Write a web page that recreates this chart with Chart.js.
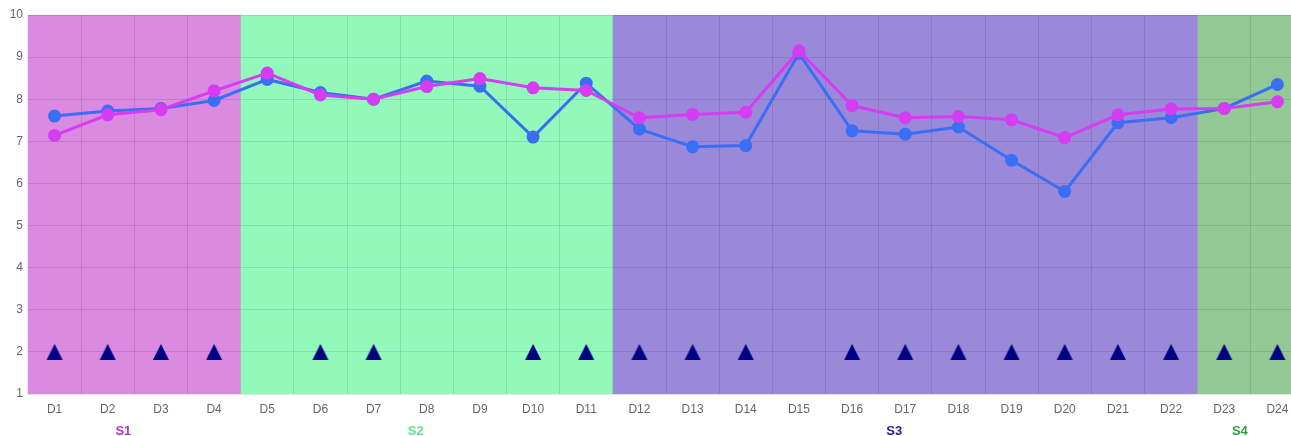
<!DOCTYPE html>
<html>
<head>
<meta charset="utf-8">
<script src="https://cdn.jsdelivr.net/npm/chart.js@4/dist/chart.umd.min.js"></script>
<style>
    html, body { margin: 0; padding: 0; background: #fff; }
    #wrap { width: 1291px; height: 436px; position: relative; }
</style>
</head>
<body>
<div id="wrap"><canvas id="myChart"></canvas></div>
<script>
// du lieu
const categories = ['D1','D2','D3','D4','D5','D6','D7','D8','D9','D10','D11','D12',
    'D13','D14','D15','D16','D17','D18','D19','D20','D21','D22','D23','D24'];
const blueValues = [7.6, 7.72, 7.78, 7.97, 8.47, 8.16, 8.0, 8.43, 8.31, 7.1, 8.38, 7.29,
    6.87, 6.9, 9.09, 7.25, 7.17, 7.34, 6.55, 5.81, 7.44, 7.56, 7.78, 8.35];
const magentaValues = [7.14, 7.63, 7.75, 8.2, 8.62, 8.1, 8.0, 8.3, 8.49, 8.27, 8.21, 7.56,
    7.64, 7.69, 9.15, 7.85, 7.56, 7.59, 7.51, 7.09, 7.63, 7.77, 7.78, 7.94];
const markerValues = [2, 2, 2, 2, null, 2, 2, null, null, 2, 2, 2,
    2, 2, null, 2, 2, 2, 2, 2, 2, 2, 2, 2];
const groupNames = ['S1', 'S2', 'S3', 'S4'];
const groupStart = [0, 4, 11, 22];
const groupEnd = [3, 10, 21, 23];
const groupFill = ['#da8ae0', '#93f9bb', '#9a88da', '#92c995'];
const groupText = ['#b433c8', '#5ce68e', '#2a1a9c', '#35a040'];

// hinh tam giac cho diem danh dau
const tri = document.createElement('canvas');
tri.width = 18;
tri.height = 16;
const tctx = tri.getContext('2d');
tctx.fillStyle = '#000080';
tctx.beginPath();
tctx.moveTo(9, 0);
tctx.lineTo(17, 16);
tctx.lineTo(1, 16);
tctx.closePath();
tctx.fill();

// bieu do goc bi cat o ben phai: vung ve dai hon canvas 13px
const overflowRight = 13;

const groupPlugin = {
    id: 'groups',
    afterLayout(chart) {
        const x = chart.scales.x;
        const extra = chart.width + overflowRight - chart.chartArea.right;
        chart.chartArea.right += extra;
        chart.chartArea.width += extra;
        x.right += extra;
        x.width += extra;
        x.configure();
    },
    beforeDraw(chart) {
        const ctx = chart.ctx;
        const x = chart.scales.x;
        const area = chart.chartArea;
        const half = (x.getPixelForValue(1) - x.getPixelForValue(0)) / 2;
        ctx.save();
        groupNames.forEach((g, i) => {
            const l = x.getPixelForValue(groupStart[i]) - half;
            const r = x.getPixelForValue(groupEnd[i]) + half;
            ctx.fillStyle = groupFill[i];
            ctx.fillRect(l, area.top, r - l, area.bottom - area.top);
        });
        ctx.restore();
    },
    afterDraw(chart) {
        const ctx = chart.ctx;
        const x = chart.scales.x;
        ctx.save();
        ctx.font = 'bold 13px Arial';
        ctx.textAlign = 'center';
        ctx.textBaseline = 'middle';
        groupNames.forEach((g, i) => {
            const mid = (x.getPixelForValue(groupStart[i]) + x.getPixelForValue(groupEnd[i])) / 2;
            ctx.fillStyle = groupText[i];
            ctx.fillText(g, mid - 11, 431);
        });
        ctx.restore();
    }
};

const ctx = document.getElementById('myChart').getContext('2d');
const myChart = new Chart(ctx, {
    type: 'line',
    data: {
        labels: categories,
        datasets: [{
            data: markerValues,
            showLine: false,
            pointStyle: tri,
            pointRadius: 9
        }, {
            data: magentaValues,
            borderColor: '#d63cf2',
            backgroundColor: '#d63cf2',
            pointBackgroundColor: '#d63cf2',
            pointBorderColor: '#d63cf2',
            borderWidth: 3,
            pointRadius: 5,
            tension: 0
        }, {
            data: blueValues,
            borderColor: '#3a6ff3',
            backgroundColor: '#3a6ff3',
            pointBackgroundColor: '#3a6ff3',
            pointBorderColor: '#3a6ff3',
            borderWidth: 3,
            pointRadius: 5,
            tension: 0
        }]
    },
    options: {
        responsive: true,
        maintainAspectRatio: false,
        animation: false,
        layout: { padding: { top: 15, left: 0, right: 0, bottom: 0 } },
        plugins: {
            legend: { display: false },
            tooltip: { enabled: false }
        },
        scales: {
            x: {
                offset: true,
                grid: { offset: true, color: 'rgba(0,0,0,0.1)', drawTicks: false },
                border: { display: false },
                ticks: { color: '#666', font: { size: 12, family: 'Arial' }, padding: 8 },
                afterFit(scale) { scale.height = 42; }
            },
            y: {
                min: 1,
                max: 10,
                ticks: { stepSize: 1, color: '#666', font: { size: 12, family: 'Arial' }, padding: 5 },
                grid: { color: 'rgba(0,0,0,0.1)', drawTicks: false },
                border: { display: false },
                afterFit(scale) { scale.width = 28; }
            }
        }
    },
    plugins: [groupPlugin]
});
</script>
</body>
</html>
